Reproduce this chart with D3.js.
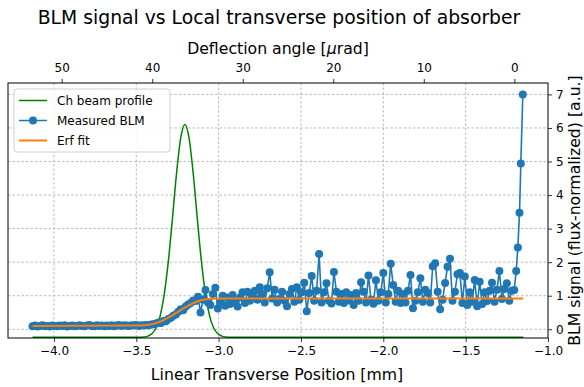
<!DOCTYPE html>
<html>
<head>
<meta charset="utf-8">
<script src="https://cdn.jsdelivr.net/npm/d3@7"></script>
<style>
  body { margin: 0; background: #fff; }
  text { font-family: "DejaVu Sans", sans-serif; fill: #000; }
</style>
</head>
<body>
<div id="chart-area"></div>
<script>
// measured BLM scan positions [mm]
const blmX = [
  -4.130, -4.115, -4.100, -4.085, -4.070, -4.055, -4.040, -4.025, -4.010, -3.995,
  -3.980, -3.965, -3.950, -3.935, -3.920, -3.905, -3.890, -3.875, -3.860, -3.845,
  -3.830, -3.815, -3.800, -3.785, -3.770, -3.755, -3.740, -3.725, -3.710, -3.695,
  -3.680, -3.665, -3.650, -3.635, -3.620, -3.605, -3.590, -3.575, -3.560, -3.545,
  -3.530, -3.515, -3.500, -3.485, -3.470, -3.455, -3.440, -3.425, -3.410, -3.395,
  -3.380, -3.365, -3.350, -3.335, -3.320, -3.305, -3.290, -3.275, -3.260, -3.245,
  -3.230, -3.215, -3.200, -3.185, -3.170, -3.155, -3.140, -3.125, -3.110, -3.095,
  -3.080, -3.065, -3.050, -3.035, -3.020, -3.005, -2.990, -2.975, -2.960, -2.945,
  -2.930, -2.915, -2.900, -2.885, -2.870, -2.855, -2.840, -2.825, -2.810, -2.795,
  -2.780, -2.765, -2.750, -2.735, -2.720, -2.705, -2.690, -2.675, -2.660, -2.645,
  -2.630, -2.615, -2.600, -2.585, -2.570, -2.555, -2.540, -2.525, -2.510, -2.495,
  -2.480, -2.465, -2.450, -2.435, -2.420, -2.405, -2.390, -2.375, -2.360, -2.345,
  -2.330, -2.315, -2.300, -2.285, -2.270, -2.255, -2.240, -2.225, -2.210, -2.195,
  -2.180, -2.165, -2.150, -2.135, -2.120, -2.105, -2.090, -2.075, -2.060, -2.045,
  -2.030, -2.015, -2.000, -1.985, -1.970, -1.955, -1.940, -1.925, -1.910, -1.895,
  -1.880, -1.865, -1.850, -1.835, -1.820, -1.805, -1.790, -1.775, -1.760, -1.745,
  -1.730, -1.715, -1.700, -1.685, -1.670, -1.655, -1.640, -1.625, -1.610, -1.595,
  -1.580, -1.565, -1.550, -1.535, -1.520, -1.505, -1.490, -1.475, -1.460, -1.445,
  -1.430, -1.415, -1.400, -1.385, -1.370, -1.355, -1.340, -1.325, -1.310, -1.295,
  -1.280, -1.265, -1.250, -1.235, -1.220, -1.205,
  -1.193, -1.183, -1.173, -1.165, -1.153
];

// measured BLM signal (flux-normalized)
const blmY = [
  0.09, 0.11, 0.08, 0.10, 0.12, 0.09, 0.10, 0.08, 0.11, 0.10,
  0.09, 0.11, 0.10, 0.12, 0.08, 0.10, 0.11, 0.09, 0.10, 0.12,
  0.10, 0.09, 0.11, 0.13, 0.10, 0.09, 0.12, 0.10, 0.11, 0.09,
  0.11, 0.10, 0.12, 0.09, 0.11, 0.13, 0.10, 0.12, 0.11, 0.10,
  0.12, 0.11, 0.13, 0.10, 0.12, 0.11, 0.13, 0.12, 0.14, 0.15,
  0.17, 0.20, 0.19, 0.25, 0.24, 0.31, 0.34, 0.40, 0.44, 0.52,
  0.60, 0.57, 0.68, 0.74, 0.78, 0.86, 0.84, 0.97, 0.50, 0.88,
  1.17, 0.80, 0.72, 1.05, 1.24, 0.62, 0.78, 1.00, 0.70, 0.95,
  0.75, 1.02, 0.82, 0.68, 0.95, 1.10, 0.78, 1.12, 0.85, 1.00,
  1.15, 0.88, 1.25, 1.05, 0.80, 1.22, 1.70, 0.92, 1.18, 0.80,
  0.90, 1.12, 0.85, 0.69, 1.05, 1.20, 0.82, 1.25, 0.88, 1.10,
  1.39, 0.54, 1.08, 1.59, 0.85, 1.15, 2.24, 0.80, 1.10, 1.37,
  0.85, 0.77, 1.71, 1.12, 0.82, 1.05, 0.78, 1.10, 0.86, 1.02,
  0.72, 1.08, 0.85, 1.40, 1.12, 0.80, 1.60, 0.88, 0.76, 1.46,
  0.85, 1.10, 1.68, 0.80, 1.05, 1.95, 1.32, 0.82, 1.15, 0.78,
  1.05, 0.80, 1.15, 1.62, 0.63, 0.85, 1.10, 1.52, 0.82, 1.18,
  1.08, 0.80, 1.88, 1.97, 1.12, 0.60, 0.88, 1.38, 1.86, 2.10,
  0.85, 1.12, 1.64, 1.68, 0.78, 1.57, 0.72, 1.10, 0.82, 1.47,
  0.69, 1.42, 0.75, 1.10, 0.84, 1.15, 1.39, 0.82, 1.18, 1.74,
  0.90, 1.20, 1.37, 0.85, 1.15, 1.17,
  1.74, 2.44, 3.47, 4.94, 7.00
];

// erf fit curve
const fitX = [-4.13, -3.50, -3.45, -3.40, -3.35, -3.30, -3.25, -3.20, -3.15, -3.10, -3.05, -3.00, -2.95, -1.15];
const fitY = [0.10, 0.11, 0.12, 0.16, 0.24, 0.36, 0.51, 0.66, 0.79, 0.87, 0.91, 0.92, 0.92, 0.92];

// channeled beam profile (arbitrary units, peak = 1)
const beamX = [-4.13, -3.480, -3.455, -3.430, -3.405, -3.380, -3.355, -3.330, -3.305, -3.280, -3.255,
  -3.230, -3.205, -3.180, -3.155, -3.130, -3.105, -3.080, -3.055, -3.030, -3.005, -2.980, -2.955, -2.930, -1.15];
const beamY = [0, 0.0004, 0.0017, 0.0057, 0.0169, 0.0439, 0.1007, 0.203, 0.360, 0.563, 0.775,
  0.938, 1.0, 0.938, 0.775, 0.563, 0.360, 0.203, 0.1007, 0.0439, 0.0169, 0.0057, 0.0017, 0.0004, 0];

const bottomTicks = [-4.0, -3.5, -3.0, -2.5, -2.0, -1.5, -1.0];
const topTicks = [50, 40, 30, 20, 10, 0];
const rightTicks = [0, 1, 2, 3, 4, 5, 6, 7];

const legendNames = ["Ch beam profile", "Measured BLM", "Erf fit"];

// SETUP CHART
const margins = { top: 83, right: 36, bottom: 49, left: 8 };
const width = 584;
const height = 387;
const graphWidth = width - margins.left - margins.right;
const graphHeight = height - margins.top - margins.bottom;

const blue = "#1f77b4";
const orange = "#ff7f0e";
const green = "#008000";

const svg = d3
  .select("#chart-area")
  .append("svg")
  .attr("width", width)
  .attr("height", height);

const graph = svg
  .append("g")
  .attr("transform", `translate(${margins.left},${margins.top})`);

// scales
const x = d3.scaleLinear().domain([-4.279, -1.0]).range([0, graphWidth]);
const xTop = d3.scaleLinear().domain([55.93, -3.72]).range([0, graphWidth]);
const y = d3.scaleLinear().domain([-0.26, 7.34]).range([graphHeight, 0]);
const yBeam = d3.scaleLinear().domain([-0.0033, 1.195]).range([graphHeight, 0]);

// grid
graph
  .append("g")
  .selectAll("line")
  .data(bottomTicks.slice(0, -1))
  .enter()
  .append("line")
  .attr("x1", d => x(d))
  .attr("x2", d => x(d))
  .attr("y1", 0)
  .attr("y2", graphHeight)
  .attr("stroke", "#a8a8a8")
  .attr("stroke-width", 0.8)
  .attr("stroke-dasharray", "2.5,2");

graph
  .append("g")
  .selectAll("line")
  .data(rightTicks)
  .enter()
  .append("line")
  .attr("x1", 0)
  .attr("x2", graphWidth)
  .attr("y1", d => y(d))
  .attr("y2", d => y(d))
  .attr("stroke", "#a8a8a8")
  .attr("stroke-width", 0.8)
  .attr("stroke-dasharray", "2.5,2");

// beam profile
const beamLine = d3
  .line()
  .x((d, i) => x(beamX[i]))
  .y(d => yBeam(d))
  .curve(d3.curveMonotoneX);

graph
  .append("path")
  .datum(beamY)
  .attr("d", beamLine)
  .attr("fill", "none")
  .attr("stroke", green)
  .attr("stroke-width", 1.5);

// measured BLM
const blmLine = d3
  .line()
  .x((d, i) => x(blmX[i]))
  .y(d => y(d));

graph
  .append("path")
  .datum(blmY)
  .attr("d", blmLine)
  .attr("fill", "none")
  .attr("stroke", blue)
  .attr("stroke-width", 1.6);

graph
  .append("g")
  .selectAll("circle")
  .data(blmY)
  .enter()
  .append("circle")
  .attr("cx", (d, i) => x(blmX[i]))
  .attr("cy", d => y(d))
  .attr("r", 4)
  .attr("fill", blue);

// erf fit
const fitLine = d3
  .line()
  .x((d, i) => x(fitX[i]))
  .y(d => y(d))
  .curve(d3.curveMonotoneX);

graph
  .append("path")
  .datum(fitY)
  .attr("d", fitLine)
  .attr("fill", "none")
  .attr("stroke", orange)
  .attr("stroke-width", 2);

// axes
const xAxisGroup = graph
  .append("g")
  .attr("transform", `translate(0,${graphHeight})`)
  .call(d3.axisBottom(x).tickValues(bottomTicks).tickFormat(d => d3.format(".1f")(d).replace("-", "\u2212")).tickSize(4).tickPadding(4));

const xTopGroup = graph
  .append("g")
  .call(d3.axisTop(xTop).tickValues(topTicks).tickFormat(d3.format("d")).tickSize(4).tickPadding(7.5));

const yAxisGroup = graph
  .append("g")
  .attr("transform", `translate(${graphWidth},0)`)
  .call(d3.axisRight(y).tickValues(rightTicks).tickFormat(d3.format("d")).tickSize(4).tickPadding(4));

[xAxisGroup, xTopGroup, yAxisGroup].forEach(g => {
  g.select(".domain").remove();
  g.selectAll("line").attr("stroke", "#000").attr("stroke-width", 0.8);
  g.selectAll("text")
    .attr("font-family", "DejaVu Sans")
    .style("font-size", "12px")
    .attr("fill", "#000");
});

// frame
graph
  .append("rect")
  .attr("width", graphWidth)
  .attr("height", graphHeight)
  .attr("fill", "none")
  .attr("stroke", "#000")
  .attr("stroke-width", 1);

// legend
const legend = graph.append("g").attr("transform", "translate(6,6)");

legend
  .append("rect")
  .attr("width", 156)
  .attr("height", 63)
  .attr("rx", 3)
  .attr("fill", "#fff")
  .attr("fill-opacity", 0.85)
  .attr("stroke", "#d0d0d0")
  .attr("stroke-width", 1);

const legendColors = [green, blue, orange];

legendNames.forEach((name, i) => {
  const ly = 11.5 + i * 20;
  legend
    .append("line")
    .attr("x1", 5)
    .attr("x2", 33)
    .attr("y1", ly)
    .attr("y2", ly)
    .attr("stroke", legendColors[i])
    .attr("stroke-width", i == 2 ? 2 : 1.5);
  if (i == 1) {
    legend
      .append("circle")
      .attr("cx", 19)
      .attr("cy", ly)
      .attr("r", 4)
      .attr("fill", blue);
  }
  legend
    .append("text")
    .attr("x", 43)
    .attr("y", ly + 4.3)
    .style("font-size", "12px")
    .text(name);
});

// titles
svg
  .append("text")
  .attr("x", 279)
  .attr("y", 24)
  .attr("text-anchor", "middle")
  .style("font-size", "18.8px")
  .text("BLM signal vs Local transverse position of absorber");

const topLabel = svg
  .append("text")
  .attr("x", 278)
  .attr("y", 53.5)
  .attr("text-anchor", "middle")
  .style("font-size", "15.7px");
topLabel.append("tspan").text("Deflection angle [");
topLabel.append("tspan").attr("font-style", "italic").text("\u03bc");
topLabel.append("tspan").text("rad]");

svg
  .append("text")
  .attr("x", 277)
  .attr("y", 380)
  .attr("text-anchor", "middle")
  .style("font-size", "15.7px")
  .text("Linear Transverse Position [mm]");

svg
  .append("text")
  .attr("transform", `translate(579.5,${margins.top + graphHeight / 2}) rotate(-90)`)
  .attr("text-anchor", "middle")
  .style("font-size", "15.7px")
  .text("BLM signal (flux-normalized) [a.u.]");
</script>
</body>
</html>
